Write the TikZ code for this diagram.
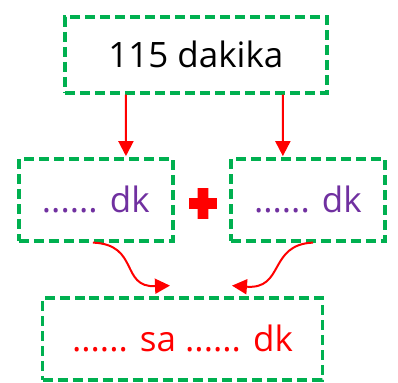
\documentclass[tikz,border=0pt]{standalone}
\usepackage{fontspec}
\setmainfont{Open Sans}
\usepackage{xcolor}
\definecolor{boxgreen}{HTML}{00B050}
\definecolor{dkpurple}{HTML}{7030A0}
\usetikzlibrary{arrows.meta}

\begin{document}
\begin{tikzpicture}[
  dashbox/.style={draw=boxgreen, line width=3.6pt, dash pattern=on 10pt off 5pt, inner sep=0pt, font=\fontsize{35}{40}\selectfont},
  redarrow/.style={draw=red, line width=2pt, -{Triangle[width=15pt,length=15pt]}}
]
 \useasboundingbox (0,0) rectangle (14.0,-13.47);

 \draw (6.89,-1.93) node[dashbox, minimum width=9.21cm, minimum height=2.67cm] (total) {115 dakika};
   \draw (3.37,-7.03) node[dashbox, text=dkpurple, minimum width=5.41cm, minimum height=2.88cm] (left) {...... dk};
   \draw (10.83,-7.03) node[dashbox, text=dkpurple, minimum width=5.41cm, minimum height=2.88cm] (right) {...... dk};
     \draw (6.42,-11.92) node[dashbox, text=red, minimum width=9.84cm, minimum height=2.88cm] (result) {...... sa ...... dk};
   \coordinate (plus) at (7.14,-7.16);

 \fill[red] (plus) ++(-0.49,-0.19) rectangle ++(0.98,0.38)
            (plus) ++(-0.19,-0.54) rectangle ++(0.38,1.08);

     \draw[redarrow] ([xshift=-2.46cm]total.south) -- ([xshift=1.06cm,yshift=1pt]left.north);
     \draw[redarrow] ([xshift=3.06cm]total.south) -- ([xshift=-0.88cm,yshift=1pt]right.north);
     \draw[redarrow] ([xshift=-0.1cm]left.south) .. controls +(1.65,-0.07) and +(-1.76,-0.07) .. ([xshift=-0.44cm,yshift=0.37cm]result.north);
     \draw[redarrow] ([xshift=0.18cm]right.south) .. controls +(-1.58,-0.07) and +(1.86,-0.14) .. ([xshift=1.74cm,yshift=0.37cm]result.north);

\end{tikzpicture}
\end{document}
